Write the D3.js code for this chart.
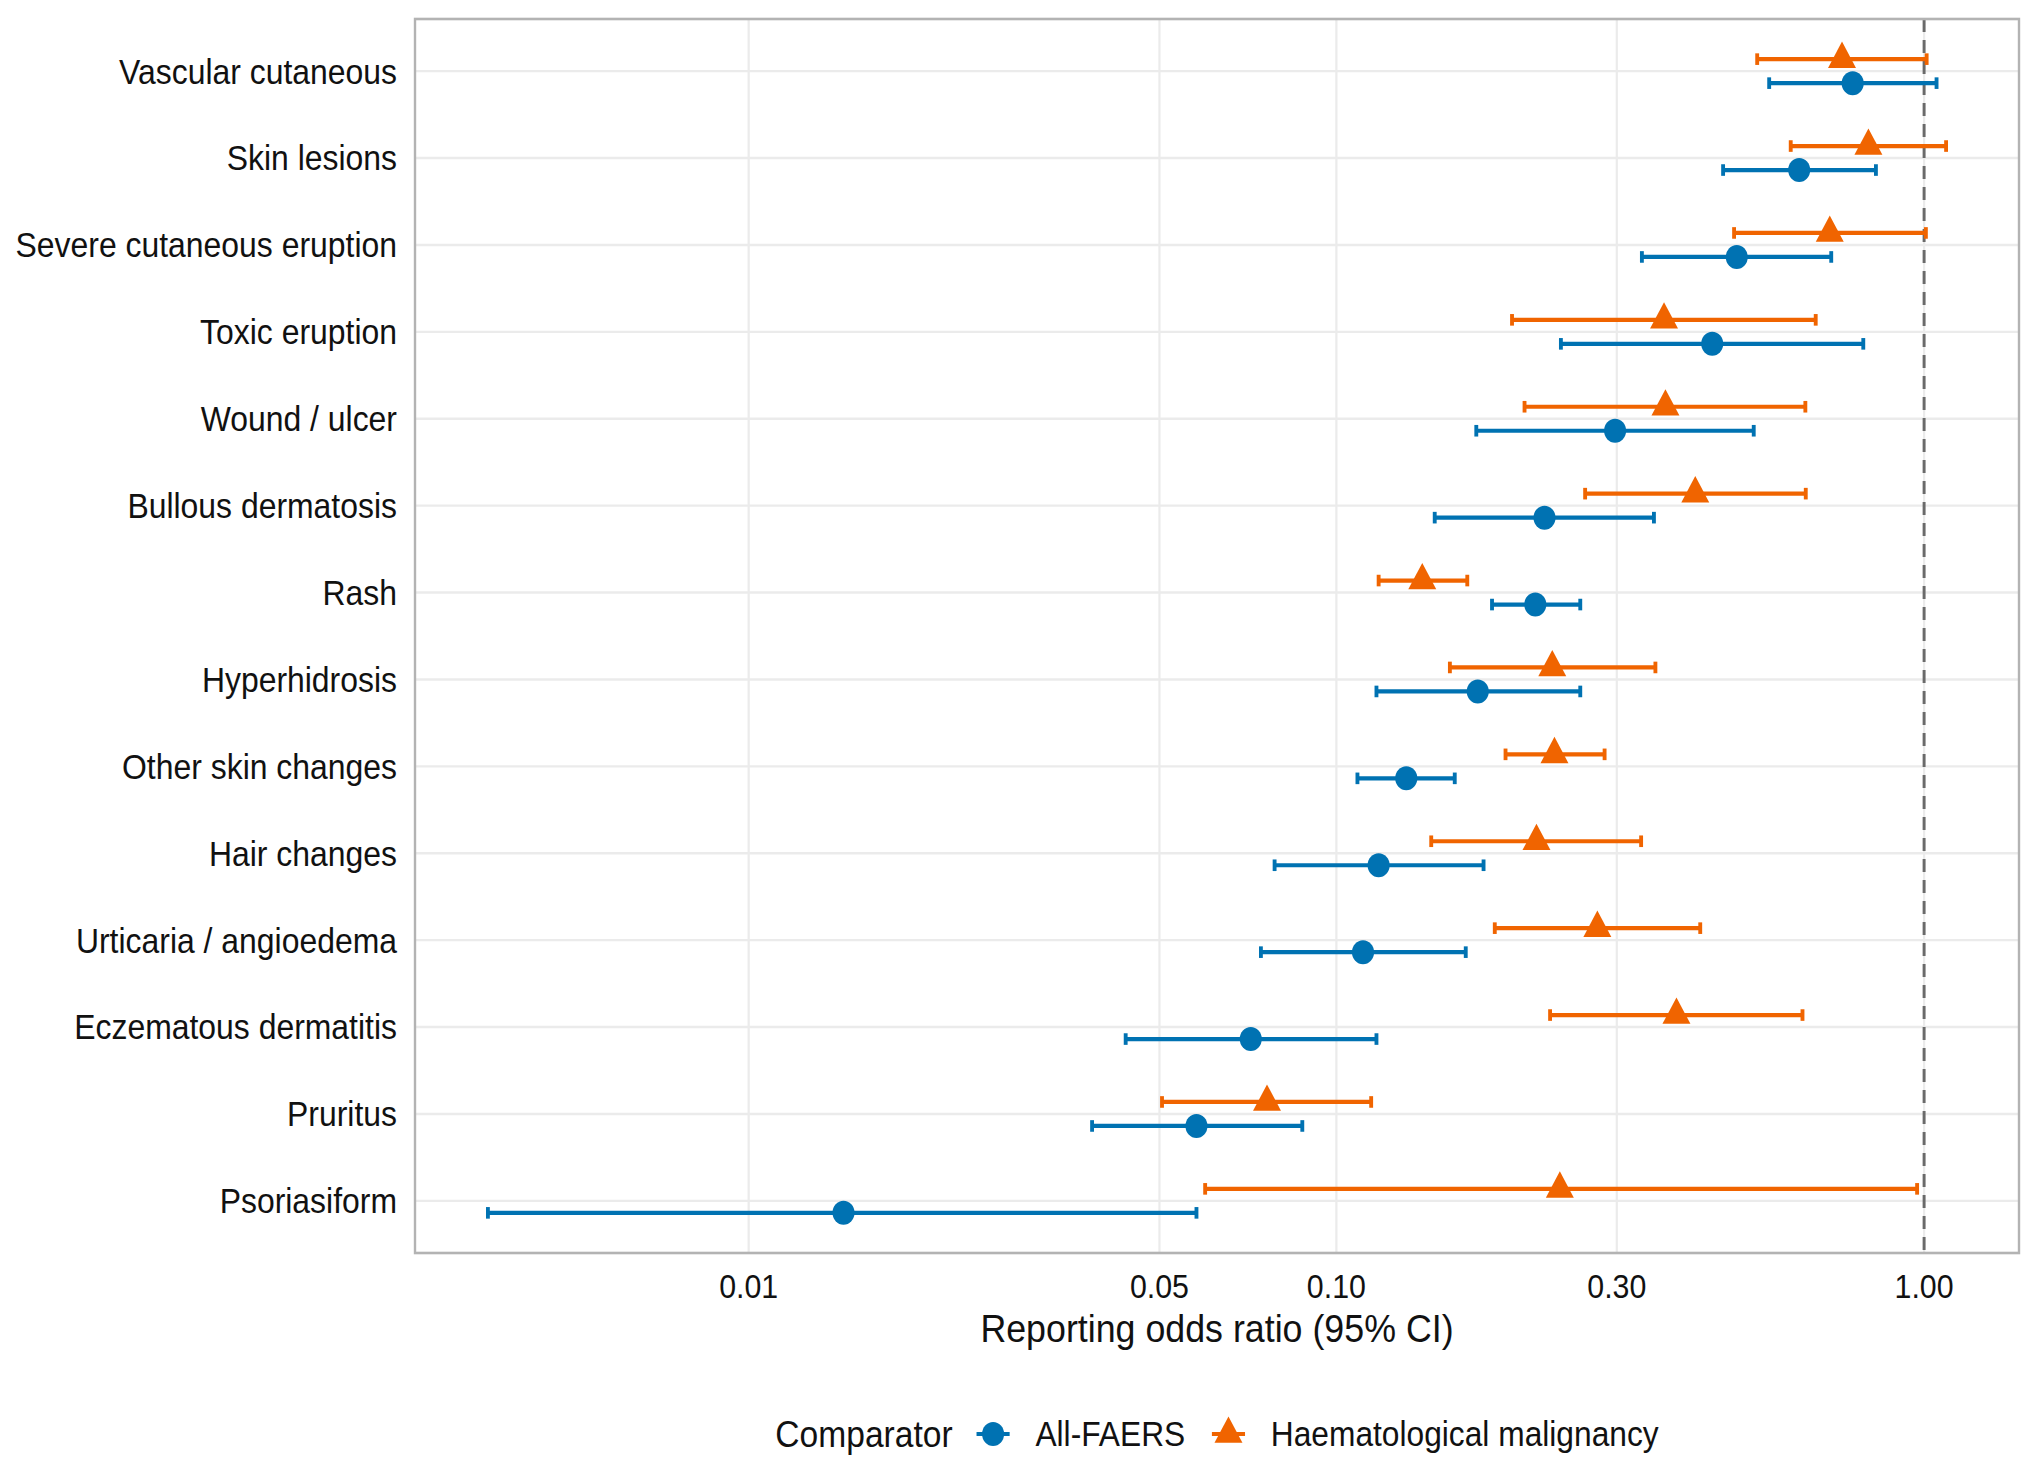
<!DOCTYPE html>
<html><head><meta charset="utf-8">
<script src="https://cdn.jsdelivr.net/npm/d3@7"></script>
<style>html,body{margin:0;padding:0;background:#fff;} svg{display:block;}</style>
</head><body><svg id="chart" width="2035" height="1473"></svg>
<script>
// ---------- data ----------
const categories = ["Vascular cutaneous","Skin lesions","Severe cutaneous eruption","Toxic eruption",
  "Wound / ulcer","Bullous dermatosis","Rash","Hyperhidrosis","Other skin changes","Hair changes",
  "Urticaria / angioedema","Eczematous dermatitis","Pruritus","Psoriasiform"];
const seriesNames = ["All-FAERS","Haematological malignancy"];
const allFaersOR = [0.756,0.613,0.480,0.436,0.298,0.226,0.218,0.174,0.1315,0.118,0.111,0.0715,0.0578,0.0145];
const allFaersLo = [0.545,0.455,0.331,0.241,0.173,0.147,0.184,0.117,0.1086,0.0785,0.0744,0.0438,0.0384,0.0036];
const allFaersHi = [1.05,0.828,0.695,0.788,0.513,0.347,0.260,0.260,0.159,0.178,0.166,0.117,0.0875,0.0578];
const haemOR = [0.725,0.804,0.691,0.361,0.363,0.408,0.140,0.233,0.235,0.219,0.278,0.379,0.0762,0.240];
const haemLo = [0.520,0.593,0.475,0.199,0.209,0.265,0.118,0.156,0.194,0.145,0.186,0.231,0.0505,0.0598];
const haemHi = [1.01,1.09,1.007,0.654,0.628,0.629,0.167,0.349,0.286,0.330,0.416,0.621,0.1146,0.973];
const xTicks = [0.01,0.05,0.10,0.30,1.00];
const xTickLabels = ["0.01","0.05","0.10","0.30","1.00"];
const axisTitle = "Reporting odds ratio (95% CI)";
const legendTitle = "Comparator";

// ---------- layout ----------
const SX = 0.92; // horizontal squeeze of the reference picture
const colors = ["#0072B2", "#F06400"];
const panel = {left: 415/SX, right: 2019/SX, top: 19, bottom: 1253};
const dodge = [12, -12];

const svg = d3.select("#chart");
const g = svg.append("g").attr("transform", `scale(${SX},1)`);

const allVals = allFaersLo.concat(allFaersHi, haemLo, haemHi);
const lmin = Math.log10(d3.min(allVals)), lmax = Math.log10(d3.max(allVals));
const pad = (lmax - lmin) * 0.05;
const x = d3.scaleLog().domain([Math.pow(10, lmin - pad), Math.pow(10, lmax + pad)])
  .range([panel.left, panel.right]);
const y = d3.scalePoint().domain(categories).range([panel.top, panel.bottom]).padding(0.6);

const font = "'Liberation Sans', Arial, Helvetica, sans-serif";

// grid
g.append("g").selectAll("line").data(xTicks).join("line")
  .attr("x1", d => x(d)).attr("x2", d => x(d))
  .attr("y1", panel.top).attr("y2", panel.bottom)
  .attr("stroke", "#EBEBEB").attr("stroke-width", 2.4);
g.append("g").selectAll("line").data(categories).join("line")
  .attr("x1", panel.left).attr("x2", panel.right)
  .attr("y1", d => y(d)).attr("y2", d => y(d))
  .attr("stroke", "#EBEBEB").attr("stroke-width", 2.4);

// reference line
g.append("line").attr("x1", x(1)).attr("x2", x(1))
  .attr("y1", panel.top).attr("y2", panel.bottom)
  .attr("stroke", "#6A6A6A").attr("stroke-width", 3.2).attr("stroke-dasharray", "13,8");

// series
const series = [
  {name: seriesNames[0], or: allFaersOR, lo: allFaersLo, hi: allFaersHi, color: colors[0], dy: dodge[0], shape: "circle"},
  {name: seriesNames[1], or: haemOR, lo: haemLo, hi: haemHi, color: colors[1], dy: dodge[1], shape: "triangle"}
];
const capH = 5.8;
const sw = 4.2;
const rC = 12;
const triPath = d3.symbol().type(d3.symbolTriangle).size(400)();
series.forEach(s => {
  const rows = categories.map((c, i) => ({c, or: s.or[i], lo: s.lo[i], hi: s.hi[i]}));
  const eg = g.append("g").attr("stroke", s.color).attr("stroke-width", sw).attr("fill", "none");
  eg.selectAll(".bar").data(rows).join("line")
    .attr("x1", d => x(d.lo)).attr("x2", d => x(d.hi))
    .attr("y1", d => y(d.c) + s.dy).attr("y2", d => y(d.c) + s.dy);
  eg.selectAll(".capl").data(rows).join("line")
    .attr("x1", d => x(d.lo)).attr("x2", d => x(d.lo))
    .attr("y1", d => y(d.c) + s.dy - capH).attr("y2", d => y(d.c) + s.dy + capH);
  eg.selectAll(".caph").data(rows).join("line")
    .attr("x1", d => x(d.hi)).attr("x2", d => x(d.hi))
    .attr("y1", d => y(d.c) + s.dy - capH).attr("y2", d => y(d.c) + s.dy + capH);
  const pg = g.append("g").attr("fill", s.color);
  if (s.shape === "circle") {
    pg.selectAll("circle").data(rows).join("circle")
      .attr("cx", d => x(d.or)).attr("cy", d => y(d.c) + s.dy).attr("r", rC);
  } else {
    pg.selectAll("path").data(rows).join("path")
      .attr("d", triPath)
      .attr("transform", d => `translate(${x(d.or)},${y(d.c) + s.dy})`);
  }
});

// panel border
g.append("rect").attr("x", panel.left).attr("y", panel.top)
  .attr("width", panel.right - panel.left).attr("height", panel.bottom - panel.top)
  .attr("fill", "none").attr("stroke", "#B3B3B3").attr("stroke-width", 2.6);

// y axis labels
g.append("g").selectAll("text").data(categories).join("text")
  .attr("x", 397/SX).attr("y", d => y(d) + 12.4)
  .attr("text-anchor", "end").attr("font-family", font).attr("font-size", 34.7)
  .attr("fill", "#111").text(d => d);

// x axis labels
g.append("g").selectAll("text").data(xTicks).join("text")
  .attr("x", d => x(d)).attr("y", 1298)
  .attr("text-anchor", "middle").attr("font-family", font).attr("font-size", 33)
  .attr("fill", "#111").text((d, i) => xTickLabels[i]);

// axis title
g.append("text").attr("x", (panel.left + panel.right) / 2).attr("y", 1342)
  .attr("text-anchor", "middle").attr("font-family", font).attr("font-size", 38.9)
  .attr("fill", "#111").text(axisTitle);

// legend
const leg = g.append("g");
const legY = 1434;
const lt = leg.append("text").attr("font-family", font).attr("font-size", 36.5).attr("fill", "#111")
  .attr("y", legY + 13).text(legendTitle);
const lbl = series.map(s => leg.append("text").attr("font-family", font).attr("font-size", 34.5)
  .attr("fill", "#111").attr("y", legY + 12.4).text(s.name));
const keyW = 40, gapTK = 24, gapKL = 26, gapLK = 27;
const wT = lt.node().getComputedTextLength();
const wL = lbl.map(t => t.node().getComputedTextLength());
const total = wT + gapTK + keyW + gapKL + wL[0] + gapLK + keyW + gapKL + wL[1];
let cx = (panel.left + panel.right) / 2 - total / 2;
lt.attr("x", cx); cx += wT + gapTK;
series.forEach((s, i) => {
  const kc = cx + keyW / 2;
  leg.append("line").attr("x1", cx + 2).attr("x2", cx + keyW - 2).attr("y1", legY).attr("y2", legY)
    .attr("stroke", s.color).attr("stroke-width", sw);
  if (s.shape === "circle") {
    leg.append("circle").attr("cx", kc).attr("cy", legY).attr("r", rC).attr("fill", s.color);
  } else {
    leg.append("path").attr("d", triPath).attr("transform", `translate(${kc},${legY})`).attr("fill", s.color);
  }
  cx += keyW + gapKL;
  lbl[i].attr("x", cx);
  cx += wL[i] + gapLK;
});
</script></body></html>
